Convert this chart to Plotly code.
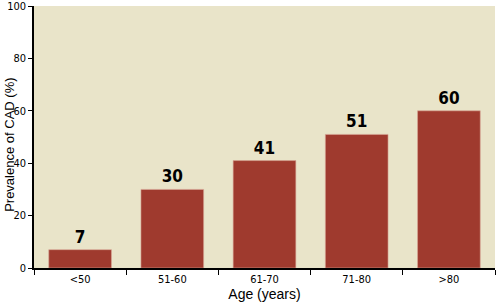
import plotly.graph_objects as go

categories = ["<50", "51-60", "61-70", "71-80", ">80"]
prevalence = [7, 30, 41, 51, 60]
y_ticks = [0, 20, 40, 60, 80, 100]

NARROW = "DejaVu Sans Condensed"
REG = "Liberation Sans, Arial, sans-serif"

fig = go.Figure(go.Bar(
    x=categories, y=prevalence,
    marker=dict(color="#9F3A2E", line=dict(color="#D8A898", width=0.6)),
    text=[str(v) for v in prevalence], textposition="outside",
    textfont=dict(family=NARROW, size=17, color="#000000", weight="bold"),
    cliponaxis=False,
))

fig.update_layout(
    width=500, height=304,
    margin=dict(l=34, r=5, t=6, b=36),
    paper_bgcolor="#FFFFFF", plot_bgcolor="#E9E4C9",
    bargap=0.32, showlegend=False,
    annotations=[dict(
        text="Prevalence of CAD (%)", textangle=-90,
        xref="paper", yref="paper", x=-24 / 461, y=0.47,
        xanchor="center", yanchor="middle", showarrow=False,
        font=dict(family=REG, size=13, color="#000"),
    )],
)
fig.update_xaxes(
    automargin=False,
    showline=True, linecolor="#000", linewidth=1.5,
    ticks="outside", ticklen=5, tickcolor="#000", tickson="boundaries",
    tickfont=dict(family=NARROW, size=11, color="#000"),
    title=dict(text="Age (years)", font=dict(family=REG, size=14, color="#000"), standoff=3),
    showgrid=False, zeroline=False,
)
fig.update_yaxes(
    automargin=False, ticklabeloverflow="allow",
    range=[0, 100], tickvals=y_ticks,
    showline=True, linecolor="#000", linewidth=1.5,
    ticks="outside", ticklen=4, tickcolor="#000",
    tickfont=dict(family=NARROW, size=11, color="#000"),
    showgrid=False, zeroline=False,
)
fig.write_html("out.html")
